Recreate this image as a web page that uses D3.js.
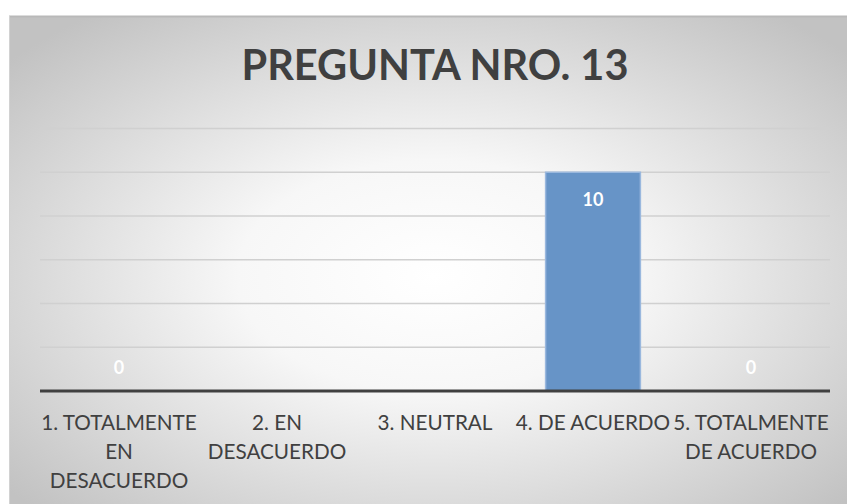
<!DOCTYPE html>
<html>
<head>
<meta charset="utf-8">
<script src="https://cdn.jsdelivr.net/npm/d3@7"></script>
<style>
  html, body { margin: 0; padding: 0; background: #fff; }
  svg { display: block; }
</style>
</head>
<body>
<script>
// chart data
var categories = ["1. TOTALMENTE EN DESACUERDO", "2. EN DESACUERDO", "3. NEUTRAL", "4. DE ACUERDO", "5. TOTALMENTE DE ACUERDO"];
var catLines = [["1. TOTALMENTE", "EN", "DESACUERDO"], ["2. EN", "DESACUERDO"], ["3. NEUTRAL"], ["4. DE ACUERDO"], ["5. TOTALMENTE", "DE ACUERDO"]];
var values = [0, null, null, 10, 0];
var yTicks = [0, 2, 4, 6, 8, 10, 12];
var title = "PREGUNTA NRO. 13";

var width = 847, height = 504;
var plot = {left: 40, right: 830, top: 128.5, bottom: 391};
var font = "Lato, 'Open Sans', sans-serif";

var svg = d3.select("body").append("svg").attr("width", width).attr("height", height);

// radial background like the excel chart style
var defs = svg.append("defs");
var grad = defs.append("radialGradient").attr("id", "bg")
  .attr("cx", "50%").attr("cy", "52%").attr("r", "66%");
grad.append("stop").attr("offset", "0%").attr("stop-color", "#ffffff");
grad.append("stop").attr("offset", "35%").attr("stop-color", "#f7f7f7");
grad.append("stop").attr("offset", "100%").attr("stop-color", "#c2c2c2");

svg.append("rect").attr("x", 9).attr("y", 16).attr("width", 850).attr("height", 500)
  .attr("fill", "url(#bg)");
svg.append("line").attr("x1", 9).attr("x2", width).attr("y1", 16.5).attr("y2", 16.5)
  .attr("stroke", "#b9b9b9").attr("stroke-width", 2);
svg.append("line").attr("x1", 9.5).attr("x2", 9.5).attr("y1", 16).attr("y2", height)
  .attr("stroke", "#d2d2d2").attr("stroke-width", 1);

var x = d3.scaleBand().domain(categories).range([plot.left, plot.right]).paddingInner(0.4).paddingOuter(0.2);
var y = d3.scaleLinear().domain([0, 12]).range([plot.bottom, plot.top]);

// gridlines
svg.append("g").selectAll("line").data(yTicks.filter(function (d) { return d > 0; }))
  .enter().append("line")
  .attr("x1", plot.left).attr("x2", plot.right)
  .attr("y1", function (d) { return y(d); }).attr("y2", function (d) { return y(d); })
  .attr("stroke", "#d0d0d0").attr("stroke-width", 1.5);

// bars
svg.append("g").selectAll("rect").data(values.map(function (v, i) { return {c: categories[i], v: v}; })
  .filter(function (d) { return d.v; }))
  .enter().append("rect")
  .attr("x", function (d) { return x(d.c); })
  .attr("y", function (d) { return y(d.v); })
  .attr("width", x.bandwidth())
  .attr("height", function (d) { return y(0) - y(d.v); })
  .attr("fill", "#6794c7")
  .attr("stroke", "#9ab8de").attr("stroke-width", 1.5);

// baseline
svg.append("line").attr("x1", plot.left).attr("x2", plot.right)
  .attr("y1", y(0)).attr("y2", y(0))
  .attr("stroke", "#404040").attr("stroke-width", 3);

// data labels
svg.append("g").selectAll("text").data(values.map(function (v, i) { return {c: categories[i], v: v}; })
  .filter(function (d) { return d.v !== null; }))
  .enter().append("text")
  .attr("x", function (d) { return x(d.c) + x.bandwidth() / 2; })
  .attr("y", function (d) { return d.v > 0 ? y(d.v) + 34 : y(0) - 17; })
  .attr("text-anchor", "middle")
  .attr("font-family", font).attr("font-weight", "bold").attr("font-size", 18)
  .attr("fill", "#ffffff")
  .text(function (d) { return d.v; });

// category labels
var labels = svg.append("g").selectAll("text").data(categories).enter().append("text")
  .attr("text-anchor", "middle")
  .attr("font-family", font).attr("font-size", 20.7).attr("fill", "#404040")
  .attr("transform", function (d) { return "translate(" + (x(d) + x.bandwidth() / 2) + ",430)"; });
labels.selectAll("tspan").data(function (d, i) { return catLines[i]; })
  .enter().append("tspan")
  .attr("x", 0).attr("y", function (d, i) { return i * 29; })
  .text(function (d) { return d; });

// title
svg.append("text").attr("x", 435).attr("y", 80).attr("text-anchor", "middle")
  .attr("font-family", font).attr("font-weight", "bold").attr("font-size", 41.5)
  .attr("fill", "#404040")
  .text(title);
</script>
</body>
</html>
